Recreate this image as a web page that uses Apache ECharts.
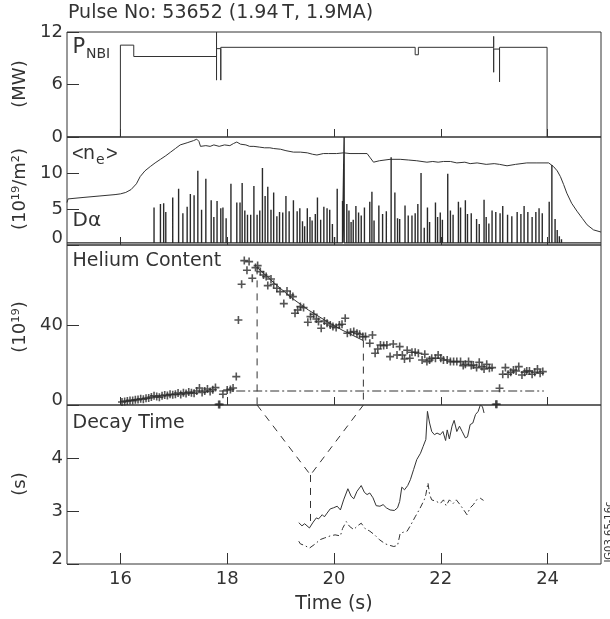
<!DOCTYPE html>
<html><head><meta charset="utf-8">
<script src="https://cdn.jsdelivr.net/npm/echarts@6/dist/echarts.min.js"></script>
<style>html,body{margin:0;padding:0;background:#fff}#c{width:610px;height:619px}</style>
</head><body><div id="c"></div>
<script>
// ---------- DATA ----------
const xTicks = [16, 18, 20, 22, 24];
const pnbiTicks = [0, 6, 12];
const denTicks = [0, 5, 10];
const heTicks = [0, 40];
const tauTicks = [2, 3, 4];

// NBI power (MW), step trace
const pnbiT = [15, 16.0, 16.0, 16.25, 16.25, 17.80, 17.80, 17.80, 17.80, 17.88, 17.88, 17.88, 21.52, 21.52, 21.58, 21.58, 22.99, 22.99, 22.99, 22.99, 23.10, 23.10, 23.10, 23.99, 23.99, 25];
const pnbiV = [0, 0, 10.5, 10.5, 9.2, 9.2, 12, 6.5, 10.1, 10.1, 6.5, 10.25, 10.25, 9.4, 9.4, 10.25, 10.25, 11.5, 7.4, 10.05, 10.05, 6.3, 10.25, 10.25, 0, 0];

// line-averaged density <ne> (1e19/m2)
const neT = [15.0, 15.02, 15.05, 15.3, 15.6, 15.9, 16.0, 16.1, 16.2, 16.3, 16.37, 16.46, 16.56, 16.65, 16.75, 16.85, 16.94, 17.03, 17.12, 17.25, 17.37, 17.43, 17.47, 17.5, 17.6, 17.68, 17.75, 17.85, 17.95, 18.05, 18.12, 18.18, 18.25, 18.35, 18.42, 18.5, 18.6, 18.7, 18.8, 18.87, 19.0, 19.1, 19.24, 19.37, 19.5, 19.6, 19.68, 19.8, 19.9, 20.05, 20.18, 20.3, 20.45, 20.62, 20.68, 20.74, 20.85, 21.05, 21.24, 21.4, 21.55, 21.74, 21.85, 21.95, 22.05, 22.18, 22.3, 22.45, 22.55, 22.68, 22.85, 23.0, 23.1, 23.24, 23.4, 23.61, 23.8, 24.02, 24.11, 24.18, 24.24, 24.3, 24.36, 24.45, 24.55, 24.65, 24.74, 24.86, 25.0];
const neV = [5.9, 6.4, 6.5, 6.6, 6.8, 7.0, 7.1, 7.3, 7.7, 8.5, 9.5, 10.3, 10.9, 11.4, 11.9, 12.4, 12.9, 13.4, 13.9, 14.2, 14.5, 14.7, 14.4, 13.7, 13.8, 13.7, 13.9, 13.7, 13.9, 13.8, 14.1, 14.3, 14.0, 13.9, 13.7, 13.7, 13.6, 13.5, 13.5, 13.4, 13.3, 13.1, 12.9, 12.9, 12.8, 12.6, 12.5, 12.7, 12.7, 12.7, 12.8, 12.7, 12.7, 12.7, 12.1, 11.5, 11.7, 11.9, 11.9, 11.8, 11.7, 11.5, 11.6, 11.5, 11.6, 11.6, 11.4, 11.5, 11.3, 11.4, 11.2, 11.3, 11.2, 11.0, 11.2, 11.4, 11.4, 11.4, 10.9, 10.3, 9.5, 8.4, 7.2, 5.8, 4.7, 3.7, 2.8, 2.1, 1.8];

// D-alpha ELM spikes (times s, peak heights)
const daBase = 0.3;
const daT = [16.63, 16.75, 16.81, 16.85, 16.98, 17.09, 17.17, 17.25, 17.31, 17.38, 17.45, 17.52, 17.60, 17.70, 17.75, 17.81, 17.88, 17.92, 17.98, 18.07, 18.18, 18.24, 18.28, 18.33, 18.38, 18.44, 18.50, 18.56, 18.61, 18.66, 18.71, 18.76, 18.82, 18.87, 18.93, 18.98, 19.04, 19.10, 19.16, 19.24, 19.31, 19.36, 19.41, 19.45, 19.50, 19.55, 19.59, 19.65, 19.69, 19.75, 19.81, 19.87, 19.92, 19.97, 20.01, 20.06, 20.16, 20.19, 20.24, 20.28, 20.32, 20.36, 20.41, 20.46, 20.51, 20.57, 20.67, 20.71, 20.75, 20.84, 20.91, 20.98, 21.07, 21.14, 21.19, 21.23, 21.33, 21.39, 21.46, 21.52, 21.57, 21.63, 21.69, 21.75, 21.79, 21.90, 21.94, 21.99, 22.03, 22.13, 22.18, 22.23, 22.33, 22.37, 22.46, 22.50, 22.57, 22.67, 22.72, 22.81, 22.85, 22.90, 22.96, 23.03, 23.11, 23.16, 23.25, 23.33, 23.43, 23.50, 23.56, 23.63, 23.71, 23.78, 23.84, 23.90, 24.03, 24.08, 24.14, 24.18, 24.22, 24.26];
const daV = [5.2, 5.7, 5.8, 4.6, 6.6, 7.8, 4.4, 5.3, 7.1, 6.9, 10.3, 4.9, 9.2, 6.2, 3.9, 6.1, 5.1, 5.2, 3.7, 8.5, 5.9, 5.9, 8.6, 4.8, 4.2, 4.2, 8.2, 4.2, 4.8, 10.7, 6.8, 8.1, 4.9, 7.3, 4.0, 4.6, 4.5, 6.8, 4.7, 6.2, 4.7, 5.1, 3.3, 2.6, 5.1, 3.9, 3.4, 4.3, 6.6, 3.5, 5.3, 5.1, 4.9, 2.9, 1.1, 7.8, 6.1, 15.0, 5.7, 4.8, 3.2, 3.5, 5.4, 4.5, 4.1, 5.2, 6.0, 7.4, 3.4, 5.5, 4.3, 4.7, 12.2, 7.3, 3.7, 3.6, 5.5, 4.1, 4.1, 4.4, 5.7, 10.0, 2.4, 5.2, 3.2, 5.9, 3.9, 4.5, 3.5, 9.9, 4.8, 4.2, 6.0, 5.2, 6.2, 4.3, 4.4, 3.6, 2.9, 6.3, 3.9, 3.0, 4.8, 4.6, 4.4, 5.4, 4.2, 4.0, 4.6, 4.3, 5.4, 4.6, 3.9, 4.6, 5.1, 4.4, 6.0, 11.1, 3.6, 2.1, 1.2, 0.8];

// Helium content (1e19)
const heT = [16.03, 16.08, 16.13, 16.18, 16.23, 16.28, 16.33, 16.38, 16.43, 16.48, 16.53, 16.58, 16.63, 16.68, 16.73, 16.78, 16.83, 16.88, 16.93, 16.98, 17.03, 17.08, 17.13, 17.18, 17.23, 17.28, 17.33, 17.38, 17.43, 17.48, 17.53, 17.58, 17.63, 17.68, 17.73, 17.78, 17.84, 17.86, 17.92, 18.00, 18.06, 18.11, 18.17, 18.21, 18.27, 18.32, 18.37, 18.41, 18.47, 18.53, 18.57, 18.62, 18.68, 18.73, 18.76, 18.82, 18.87, 18.93, 18.99, 19.06, 19.12, 19.18, 19.23, 19.27, 19.32, 19.37, 19.43, 19.51, 19.56, 19.62, 19.67, 19.71, 19.76, 19.82, 19.87, 19.93, 19.98, 20.04, 20.10, 20.15, 20.21, 20.25, 20.31, 20.37, 20.43, 20.48, 20.54, 20.59, 20.67, 20.72, 20.77, 20.82, 20.87, 20.93, 20.99, 21.05, 21.11, 21.18, 21.23, 21.28, 21.32, 21.37, 21.42, 21.46, 21.52, 21.58, 21.65, 21.70, 21.74, 21.79, 21.83, 21.90, 21.95, 22.00, 22.05, 22.12, 22.18, 22.24, 22.30, 22.37, 22.42, 22.46, 22.52, 22.57, 22.61, 22.67, 22.72, 22.77, 22.81, 22.86, 22.91, 22.96, 23.03, 23.05, 23.10, 23.16, 23.21, 23.26, 23.31, 23.36, 23.41, 23.46, 23.52, 23.57, 23.61, 23.66, 23.71, 23.76, 23.81, 23.86, 23.91];
const heV = [1.5, 1.8, 2.0, 2.3, 2.2, 2.6, 2.7, 3.1, 2.9, 3.4, 3.5, 4.0, 4.6, 4.2, 3.9, 4.6, 5.0, 4.7, 5.4, 5.1, 5.4, 6.0, 5.3, 6.1, 5.7, 6.5, 6.1, 5.9, 7.0, 8.5, 6.3, 7.0, 8.0, 6.8, 7.6, 8.7, 0.3, 0.3, 5.4, 7.5, 7.8, 8.5, 14.2, 42.5, 60.4, 72.2, 67.4, 71.7, 63.4, 68.7, 69.7, 66.7, 65.0, 64.2, 59.7, 63.0, 60.4, 58.4, 56.7, 50.7, 57.0, 55.0, 54.2, 45.9, 47.5, 49.2, 48.7, 41.4, 44.2, 45.4, 43.0, 41.7, 38.4, 42.0, 40.9, 40.0, 39.2, 38.7, 40.0, 40.4, 43.4, 35.9, 36.4, 36.7, 35.9, 35.4, 34.2, 34.2, 30.9, 35.0, 25.9, 28.0, 30.0, 29.7, 30.0, 24.2, 30.5, 25.0, 29.2, 25.0, 23.0, 27.4, 23.4, 26.4, 26.4, 25.9, 22.5, 25.4, 21.7, 22.5, 23.4, 23.4, 25.0, 23.4, 22.5, 22.5, 21.7, 21.7, 21.7, 21.7, 19.7, 20.4, 21.7, 19.7, 20.0, 18.7, 21.4, 19.2, 18.0, 20.4, 18.4, 18.7, 0.4, 0.4, 8.4, 15.4, 18.7, 15.4, 16.4, 17.5, 17.0, 19.2, 15.0, 16.4, 17.0, 17.0, 15.4, 16.4, 18.0, 15.9, 16.7];

// exponential decay fit over the analysis window
const fitT = [18.56, 18.9, 19.21, 19.52, 19.84, 20.15, 20.55];
const fitV = [68.8, 60.5, 53.5, 47.5, 42.2, 37.5, 32.2];
const windowT = [18.56, 20.55];
const windowTop = [68.8, 32.2];
const heLevelT = [17.85, 23.93];
const heLevelV = [7.0, 7.0];

// guide "V" in decay panel
const vGuideT = [18.56, 19.56, 20.55];
const vGuideV = [5.0, 3.68, 5.0];
const vStemT = [19.56, 19.56];
const vStemV = [3.68, 2.71];

// decay time (s)
const tauT = [19.34, 19.37, 19.40, 19.45, 19.54, 19.61, 19.67, 19.71, 19.78, 19.82, 19.87, 19.93, 19.99, 20.06, 20.12, 20.18, 20.26, 20.32, 20.37, 20.43, 20.51, 20.57, 20.62, 20.67, 20.73, 20.79, 20.86, 20.92, 20.98, 21.05, 21.13, 21.19, 21.23, 21.27, 21.32, 21.38, 21.43, 21.49, 21.55, 21.62, 21.67, 21.72, 21.75, 21.79, 21.83, 21.88, 21.93, 21.99, 22.04, 22.09, 22.12, 22.16, 22.21, 22.25, 22.30, 22.35, 22.40, 22.46, 22.50, 22.55, 22.60, 22.65, 22.70, 22.74, 22.78, 22.81];
const tauV = [2.78, 2.76, 2.72, 2.76, 2.68, 2.79, 2.87, 2.85, 2.93, 2.89, 2.96, 3.04, 3.06, 3.09, 3.02, 3.21, 3.42, 3.28, 3.23, 3.37, 3.48, 3.35, 3.31, 3.34, 3.25, 3.10, 3.09, 3.12, 3.06, 3.02, 3.01, 3.06, 3.18, 3.45, 3.40, 3.48, 3.59, 3.78, 3.97, 4.09, 4.22, 4.35, 4.88, 4.66, 4.50, 4.44, 4.47, 4.44, 4.50, 4.33, 4.53, 4.36, 4.60, 4.71, 4.50, 4.60, 4.50, 4.38, 4.40, 4.63, 4.66, 4.82, 4.88, 5.0, 4.97, 4.85];
const tau2T = [19.34, 19.37, 19.45, 19.54, 19.65, 19.74, 19.82, 19.93, 20.02, 20.12, 20.16, 20.23, 20.29, 20.37, 20.44, 20.51, 20.58, 20.67, 20.76, 20.85, 20.96, 21.05, 21.12, 21.19, 21.24, 21.30, 21.37, 21.44, 21.52, 21.60, 21.69, 21.72, 21.76, 21.79, 21.83, 21.92, 21.99, 22.05, 22.10, 22.16, 22.23, 22.29, 22.36, 22.43, 22.49, 22.55, 22.61, 22.67, 22.74, 22.80];
const tau2V = [2.43, 2.38, 2.35, 2.30, 2.38, 2.46, 2.49, 2.53, 2.55, 2.53, 2.67, 2.80, 2.71, 2.65, 2.72, 2.77, 2.67, 2.62, 2.55, 2.46, 2.38, 2.35, 2.33, 2.35, 2.58, 2.60, 2.62, 2.74, 2.89, 3.03, 3.21, 3.31, 3.53, 3.31, 3.21, 3.18, 3.14, 3.21, 3.10, 3.21, 3.14, 3.21, 3.12, 3.02, 2.93, 3.06, 3.12, 3.21, 3.24, 3.20];

// ---------- CHART ----------
const FONT = 'DejaVu Sans';
const INK = '#333';
const pairs = (ts, vs) => ts.map((t, i) => [t, vs[i]]);
const daData = [[15, daBase]];
daT.forEach((t, i) => { daData.push([t, daBase], [t, daV[i]], [t, daBase]); });
daData.push([25, daBase]);

const grids = [
  {left: 67, right: 9, top: 32, height: 105},
  {left: 67, right: 9, top: 137, height: 108},
  {left: 67, right: 9, top: 245, height: 160},
  {left: 67, right: 9, top: 405, height: 159}
].map(g => Object.assign(g, {show: true, borderColor: INK, borderWidth: 1, backgroundColor: 'transparent'}));

const xAxes = [0, 1, 2, 3].map(i => ({
  type: 'value', gridIndex: i, min: 15, max: 25,
  axisLine: {show: false}, splitLine: {show: false},
  axisTick: {show: true, inside: true, length: i === 3 ? 11 : 8, customValues: xTicks, lineStyle: {color: INK, width: 1}},
  axisLabel: {show: i === 3, customValues: xTicks, color: INK, fontFamily: FONT, fontSize: 18, margin: 6}
}));

function yAx(i, min, max, ticks, lowShift) {
  return {
    type: 'value', gridIndex: i, min: min, max: max,
    axisLine: {show: false}, splitLine: {show: false},
    axisTick: {show: true, inside: true, length: 12, customValues: ticks, lineStyle: {color: INK, width: 1}},
    axisLabel: {
      customValues: ticks, color: INK, fontFamily: FONT, fontSize: 18, margin: 4,
      formatter: v => (v === min && lowShift) ? '{lo|' + v + '}' : String(v),
      rich: {lo: {fontFamily: FONT, fontSize: 18, color: INK, padding: [0, 0, lowShift * 2, 0]}}
    }
  };
}
const yAxes = [
  yAx(0, 0, 12, pnbiTicks, 0),
  yAx(1, 0, 15, denTicks, 7),
  yAx(2, 0, 80, heTicks, 5),
  yAx(3, 2, 5, tauTicks, 5)
];

const ln = (xi, data, extra) => Object.assign({
  type: 'line', xAxisIndex: xi, yAxisIndex: xi, data: data, symbol: 'none', silent: true,
  animation: false, lineStyle: {color: INK, width: 1}
}, extra || {});

const PLUS = 'path://M4,0H6V4H10V6H6V10H4V6H0V4H4Z';
const dashed = [7, 6];
const dashDot = [9, 3, 2, 3];

const series = [
  ln(0, pairs(pnbiT, pnbiV)),
  ln(1, pairs(neT, neV)),
  ln(1, daData, {lineStyle: {color: '#2a2a2a', width: 1.4}}),
  {type: 'scatter', xAxisIndex: 2, yAxisIndex: 2, data: pairs(heT, heV), symbol: PLUS, symbolSize: 8,
   itemStyle: {color: '#2a2a2a'}, silent: true, animation: false},
  ln(2, pairs(fitT, fitV)),
  ln(2, [[windowT[0], windowTop[0]], [windowT[0], 0]], {lineStyle: {color: INK, width: 1, type: dashed}}),
  ln(2, [[windowT[1], windowTop[1]], [windowT[1], 0]], {lineStyle: {color: INK, width: 1, type: dashed}}),
  ln(2, pairs(heLevelT, heLevelV), {lineStyle: {color: INK, width: 1, type: dashDot}}),
  ln(3, pairs(vGuideT, vGuideV), {lineStyle: {color: INK, width: 1, type: dashed}}),
  ln(3, pairs(vStemT, vStemV), {lineStyle: {color: INK, width: 1, type: dashed}}),
  ln(3, pairs(tauT, tauV)),
  ln(3, pairs(tau2T, tau2V), {lineStyle: {color: INK, width: 1, type: [6, 3, 1.5, 3]}})
];

function txt(x, y, s, size, opts, fam) {
  return Object.assign({
    type: 'text', x: x, y: y, silent: true,
    style: Object.assign({text: s, fill: INK, font: size + 'px "' + (fam || FONT) + '"', textAlign: 'left', textVerticalAlign: 'middle'}, (opts && opts.style) || {})
  }, (opts && opts.el) || {});
}
const rot = {el: {rotation: Math.PI / 2}, style: {textAlign: 'center'}};
const graphic = [
  txt(68, 13.5, 'Pulse No: 53652 (1.94\u2009T, 1.9MA)', 19),
  txt(72.5, 47.7, 'P', 21),
  txt(86, 54.2, 'NBI', 14),
  txt(72, 154.4, '<', 20, null, 'Liberation Sans'),
  txt(83, 154.4, 'n', 19),
  txt(96, 160, 'e', 14),
  txt(106, 154.4, '>', 20, null, 'Liberation Sans'),
  txt(72.5, 221, 'D\u03B1', 20),
  txt(72.5, 261, 'Helium Content', 19),
  txt(72.5, 423.4, 'Decay Time', 19),
  txt(20, 84, '(MW)', 18, rot),
  txt(20, 189, '(10\u00B9\u2079/m\u00B2)', 18, rot),
  txt(20, 327, '(10\u00B9\u2079)', 18, rot),
  txt(20, 484, '(s)', 18, rot),
  txt(334, 604, 'Time (s)', 19, {style: {textAlign: 'center'}}),
  txt(609, 532, 'JG03.65-16c', 10, rot)
];

const chart = echarts.init(document.getElementById('c'), null, {renderer: 'canvas'});
chart.setOption({
  animation: false,
  backgroundColor: '#fff',
  grid: grids, xAxis: xAxes, yAxis: yAxes, series: series, graphic: graphic
});
</script></body></html>
